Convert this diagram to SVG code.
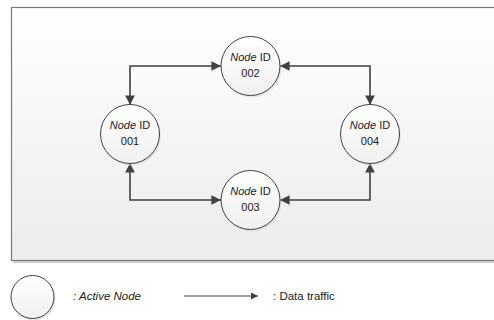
<svg xmlns="http://www.w3.org/2000/svg" width="494" height="320" viewBox="0 0 494 320">
  <style>
    .node-c { fill: url(#nodeGrad); stroke: #404040; stroke-width: 1; }
    .shadow { fill: #d8d8d8; opacity: 0.6; }
    .lbl { font-family: "Liberation Sans", Arial, sans-serif; font-size: 11px; fill: #222; text-anchor: middle; }
    .legend { font-family: "Liberation Sans", Arial, sans-serif; font-size: 11.5px; fill: #222; }
    .conn { fill: none; stroke: #404040; stroke-width: 1.6; }
  </style>
  <defs>
    <linearGradient id="bgGrad" x1="0" y1="0" x2="0" y2="1">
      <stop offset="0" stop-color="#ffffff"/>
      <stop offset="1" stop-color="#ececec"/>
    </linearGradient>
    <linearGradient id="nodeGrad" x1="0" y1="0" x2="0" y2="1">
      <stop offset="0" stop-color="#ffffff"/>
      <stop offset="1" stop-color="#f0f0f0"/>
    </linearGradient>
    <marker id="arr" viewBox="0 0 10 10" refX="10" refY="5" markerWidth="6" markerHeight="6" orient="auto-start-reverse" markerUnits="strokeWidth">
      <path d="M0,0 L10,5 L0,10 Z" fill="#404040"/>
    </marker>
    <marker id="arrL" viewBox="0 0 10 10" refX="10" refY="5" markerWidth="8" markerHeight="7" orient="auto" markerUnits="userSpaceOnUse">
      <path d="M0,0 L10,5 L0,10 Z" fill="#404040"/>
    </marker>
  </defs>

  <g id="background">
    <rect x="13" y="9" width="490" height="254" fill="#d0d0d0"/>
    <rect x="11.5" y="7.5" width="490" height="253" fill="url(#bgGrad)" stroke="#7a7a7a" stroke-width="1.2"/>
  </g>

  <g id="connectors">
    <path class="conn" d="M221,66 H130 V105" marker-start="url(#arr)" marker-end="url(#arr)"/>
    <path class="conn" d="M280,66 H370 V105" marker-start="url(#arr)" marker-end="url(#arr)"/>
    <path class="conn" d="M130,163 V200 H221" marker-start="url(#arr)" marker-end="url(#arr)"/>
    <path class="conn" d="M280,200 H370 V163" marker-start="url(#arr)" marker-end="url(#arr)"/>
  </g>

  <g id="node-002">
    <circle class="shadow" cx="252" cy="68" r="29.5"/>
    <circle class="node-c" cx="250.5" cy="66" r="29.5"/>
    <text class="lbl" x="250.5" y="61"><tspan font-style="italic">Node</tspan> ID</text>
    <text class="lbl" x="250.5" y="77">002</text>
  </g>
  <g id="node-001">
    <circle class="shadow" cx="131.5" cy="136" r="29.5"/>
    <circle class="node-c" cx="130" cy="134" r="29.5"/>
    <text class="lbl" x="130" y="129"><tspan font-style="italic">Node</tspan> ID</text>
    <text class="lbl" x="130" y="145">001</text>
  </g>
  <g id="node-004">
    <circle class="shadow" cx="371.5" cy="136" r="29.5"/>
    <circle class="node-c" cx="370" cy="134" r="29.5"/>
    <text class="lbl" x="370" y="129"><tspan font-style="italic">Node</tspan> ID</text>
    <text class="lbl" x="370" y="145">004</text>
  </g>
  <g id="node-003">
    <circle class="shadow" cx="252" cy="202" r="29.5"/>
    <circle class="node-c" cx="250.5" cy="200" r="29.5"/>
    <text class="lbl" x="250.5" y="195"><tspan font-style="italic">Node</tspan> ID</text>
    <text class="lbl" x="250.5" y="211">003</text>
  </g>

  <g id="legend-node">
    <circle class="shadow" cx="34" cy="299" r="21.5"/>
    <circle class="node-c" cx="32.5" cy="297" r="21.5"/>
    <text class="legend" x="73" y="300" font-style="italic">: Active Node</text>
  </g>
  <g id="legend-traffic">
    <line x1="184" y1="296" x2="258" y2="296" stroke="#404040" stroke-width="1.2" marker-end="url(#arrL)"/>
    <text class="legend" x="273" y="300">: Data traffic</text>
  </g>
</svg>
